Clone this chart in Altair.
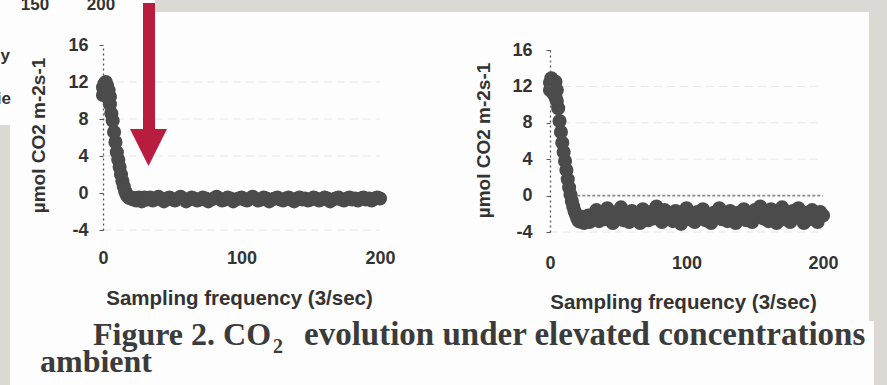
import altair as alt
import pandas as pd

# ---------------------------------------------------------------- data ---
# Sample number (3 samples per second); every sample over the drawdown,
# every second sample afterwards.
SAMPLE_HEAD = [0, 0, 1, 1, 2, 2, 3, 3, 4, 4, 5, 5,
               6, 7, 8, 9, 10, 11, 12, 13, 14, 15,
               16, 17, 18, 19, 20, 21, 22, 23, 24, 25,
               26, 27, 28, 29, 30]
SAMPLE_TAIL = [32, 34, 36, 38, 40, 42, 44, 46, 48, 50,
               52, 54, 56, 58, 60, 62, 64, 66, 68, 70,
               72, 74, 76, 78, 80, 82, 84, 86, 88, 90,
               92, 94, 96, 98, 100, 102, 104, 106, 108, 110,
               112, 114, 116, 118, 120, 122, 124, 126, 128, 130,
               132, 134, 136, 138, 140, 142, 144, 146, 148, 150,
               152, 154, 156, 158, 160, 162, 164, 166, 168, 170,
               172, 174, 176, 178, 180, 182, 184, 186, 188, 190,
               192, 194, 196, 198, 200]

# CO2 flux, umol CO2 m-2 s-1 -- elevated concentration
ELEVATED_HEAD = [10.6, 11.4, 11.8, 10.9, 12.0, 11.2, 11.6, 10.5, 11.1, 10.2, 10.4, 9.6,
                 8.6, 7.8, 6.6, 5.5, 4.4, 3.6, 2.8, 2.0, 1.3, 0.7,
                 0.2, -0.2, -0.4, -0.5, -0.6, -0.5, -0.7, -0.6, -0.8, -0.6,
                 -0.5, -0.7, -0.9, -0.6, -0.5]
ELEVATED_TAIL = [-0.7, -0.5, -0.8, -0.6, -0.4, -0.7, -0.9, -0.6, -0.5, -0.7,
                 -0.8, -0.6, -0.4, -0.6, -0.9, -0.7, -0.5, -0.6, -0.8, -0.7,
                 -0.5, -0.6, -0.9, -0.7, -0.6, -0.4, -0.6, -0.8, -0.7, -0.5,
                 -0.6, -0.9, -0.7, -0.6, -0.5, -0.7, -0.8, -0.6, -0.4, -0.6,
                 -0.8, -0.7, -0.5, -0.6, -0.9, -0.7, -0.6, -0.5, -0.7, -0.8,
                 -0.6, -0.5, -0.7, -0.9, -0.6, -0.5, -0.7, -0.6, -0.8, -0.7,
                 -0.5, -0.6, -0.8, -0.7, -0.5, -0.6, -0.9, -0.7, -0.6, -0.5,
                 -0.7, -0.8, -0.6, -0.5, -0.7, -0.6, -0.8, -0.6, -0.5, -0.7,
                 -0.6, -0.8, -0.6, -0.5, -0.6]

# CO2 flux -- ambient concentration
AMBIENT_HEAD = [12.4, 11.6, 12.9, 11.9, 12.6, 11.3, 12.2, 11.5, 12.5, 10.8, 11.6, 10.4,
                9.6, 8.2, 7.0, 5.8, 4.8, 3.8, 2.8, 1.8, 0.9, 0.1,
                -0.6, -1.2, -1.7, -2.1, -2.5, -2.8, -2.3, -2.9, -2.6, -3.0,
                -2.4, -2.8, -2.2, -2.9, -2.5]
AMBIENT_TAIL = [-2.3, -1.6, -2.8, -2.0, -2.6, -1.4, -2.2, -3.0, -1.9, -2.5,
                -1.3, -2.7, -2.1, -2.9, -1.7, -2.4, -2.0, -3.0, -1.5, -2.3,
                -2.7, -1.8, -2.5, -1.2, -2.2, -2.9, -1.6, -2.4, -2.0, -2.8,
                -1.7, -2.5, -3.1, -2.0, -1.4, -2.6, -2.2, -2.9, -1.8, -2.4,
                -1.5, -2.7, -2.1, -3.0, -1.9, -2.3, -1.4, -2.6, -2.0, -2.8,
                -1.7, -2.4, -3.0, -1.9, -2.2, -1.5, -2.7, -2.1, -2.9, -1.6,
                -2.3, -1.2, -2.5, -2.0, -2.8, -1.5, -2.4, -3.0, -1.8, -1.3,
                -2.6, -2.1, -2.9, -1.7, -2.4, -1.4, -2.2, -3.0, -1.9, -2.6,
                -1.6, -2.3, -2.9, -1.8, -2.2]

X_TICKS = [0, 100, 200]
Y_TICKS = [-4, 0, 4, 8, 12, 16]
GRID_LEVELS = [12, 8, 4, -4]
REFERENCE_LEVEL = [0]

X_TITLE = "Sampling frequency (3/sec)"
Y_TITLE = "µmol CO2 m-2s-1"

# --------------------------------------------------------------- style ---
W, H = 887, 385
SANS = "Liberation Sans"
SERIF = "Liberation Serif"
INK = "#333333"
PAPER = "#fdfdfd"
SLIDE = "#dcd9d4"
DOTS = "#4b4b4b"
ARROW = "#b81c3f"


def frame(head, tail):
    return pd.DataFrame({"t": SAMPLE_HEAD + SAMPLE_TAIL, "v": head + tail})


def panel(df, x_range, y_range, x_axis_y, x_lab_pad, x_title_xy,
          y_lab_pad, y_title_xy, zero_line=False):
    y_axis_x = x_range[0]
    xs = alt.Scale(domain=[0, 200], range=x_range, nice=False, zero=False)
    ys = alt.Scale(domain=[-4, 16], range=y_range, nice=False, zero=False)
    x_axis = alt.Axis(
        orient="bottom", offset=x_axis_y - H, values=X_TICKS, zindex=1,
        domain=False, ticks=False, tickSize=0, grid=False,
        labelFlush=False, labelOverlap=False, labelPadding=x_lab_pad,
        labelBaseline="middle", labelFont=SANS, labelFontSize=18,
        labelFontWeight="bold", labelColor=INK,
        title=X_TITLE, titleX=x_title_xy[0], titleY=x_title_xy[1] - x_axis_y,
        titleBaseline="middle", titleFont=SANS, titleFontSize=20.5,
        titleFontWeight="bold", titleColor=INK,
    )
    y_axis = alt.Axis(
        orient="left", offset=-y_axis_x, values=Y_TICKS, zindex=1,
        domain=True, domainDash=[2, 3], domainColor="#555555", domainWidth=1.3,
        ticks=True, tickSize=4, tickColor="#555555", grid=False,
        labelFlush=False, labelOverlap=False, labelPadding=y_lab_pad,
        labelExpr="'' + datum.value",
        labelFont=SANS, labelFontSize=18, labelFontWeight="bold", labelColor=INK,
        title=Y_TITLE, titleX=y_title_xy[0] - y_axis_x, titleY=y_title_xy[1],
        titleBaseline="middle", titleFont=SANS, titleFontSize=19,
        titleFontWeight="bold", titleColor=INK,
    )

    grid = alt.Chart(pd.DataFrame({"v": GRID_LEVELS})).mark_rule(
        color="#e6e6e6", strokeWidth=1, strokeDash=[8, 5]
    ).encode(
        x=alt.XDatum(0, scale=xs, axis=x_axis),
        x2=alt.X2Datum(200),
        y=alt.Y("v:Q", scale=ys, axis=y_axis),
    )
    layers = [grid]
    if zero_line:
        ref = alt.Chart(pd.DataFrame({"v": REFERENCE_LEVEL})).mark_rule(
            color="#8a8a8a", strokeWidth=1.6, strokeDash=[3, 2]
        ).encode(
            x=alt.XDatum(20, scale=xs, axis=x_axis),
            x2=alt.X2Datum(200),
            y=alt.Y("v:Q", scale=ys, axis=y_axis),
        )
        layers.append(ref)
    dots = alt.Chart(df).mark_point(
        shape="circle", filled=True, size=200, strokeWidth=0,
        color=DOTS, opacity=1,
    ).encode(
        x=alt.X("t:Q", scale=xs, axis=x_axis),
        y=alt.Y("v:Q", scale=ys, axis=y_axis),
    )
    layers.append(dots)
    return alt.layer(*layers)


def one_row():
    return alt.Data(values=[{}])


def block(x0, x1, y0, y1, color=PAPER):
    return alt.Chart(one_row()).mark_rect(color=color).encode(
        x=alt.value(x0), x2=alt.value(x1), y=alt.value(y0), y2=alt.value(y1)
    )


def label(text, x, y, size, font=SANS, weight="bold", align="left", color=INK):
    return alt.Chart(one_row()).mark_text(
        text=text, font=font, fontSize=size, fontWeight=weight,
        align=align, baseline="alphabetic", color=color,
    ).encode(x=alt.value(x), y=alt.value(y))


# ---------------------------------------------------------------- page ---
paper = [
    block(0, 155, 0, 125),
    block(10, 869, 12, 321),
    block(10, 874, 321, 385),
]

edge_text = [
    label("150", 35, 10, 17, align="center"),
    label("200", 101, 10, 17, align="center"),
    label("y", 10, 61, 17, align="right"),
    label("ie", 11, 104, 17, align="right"),
]

elevated = panel(
    frame(ELEVATED_HEAD, ELEVATED_TAIL),
    x_range=[103, 380], y_range=[230, 45], x_axis_y=235, x_lab_pad=23,
    x_title_xy=(239, 298), y_lab_pad=11, y_title_xy=(38, 135),
)
ambient = panel(
    frame(AMBIENT_HEAD, AMBIENT_TAIL),
    x_range=[550, 823], y_range=[232, 50], x_axis_y=235, x_lab_pad=28,
    x_title_xy=(683, 302), y_lab_pad=14, y_title_xy=(483, 140),
    zero_line=True,
)

arrow = [
    alt.Chart(one_row()).mark_rule(color=ARROW, strokeWidth=12).encode(
        x=alt.value(149), y=alt.value(3), y2=alt.value(132)
    ),
    alt.Chart(one_row()).mark_point(
        shape="M-1,-1L1,-1L0,1Z", filled=True, size=1369, color=ARROW, opacity=1
    ).encode(x=alt.value(148.5), y=alt.value(147.5)),
]

caption = [
    label("Figure 2. CO", 93, 345, 32, font=SERIF, color="#3b3b3b"),
    label("2", 273, 353, 20, font=SERIF, color="#3b3b3b"),
    label("evolution under elevated concentrations", 304, 345, 33,
          font=SERIF, color="#3b3b3b"),
    label("ambient", 40, 372, 32, font=SERIF, color="#3b3b3b"),
]

chart = alt.layer(
    *paper, *edge_text, elevated, ambient, *arrow, *caption
).resolve_scale(
    x="independent", y="independent"
).properties(
    width=W, height=H, padding=0,
    autosize=alt.AutoSizeParams(type="none"),
    background=SLIDE,
).configure_view(stroke=None)

chart.save("out.html", embed_options={"renderer": "svg", "actions": False})
